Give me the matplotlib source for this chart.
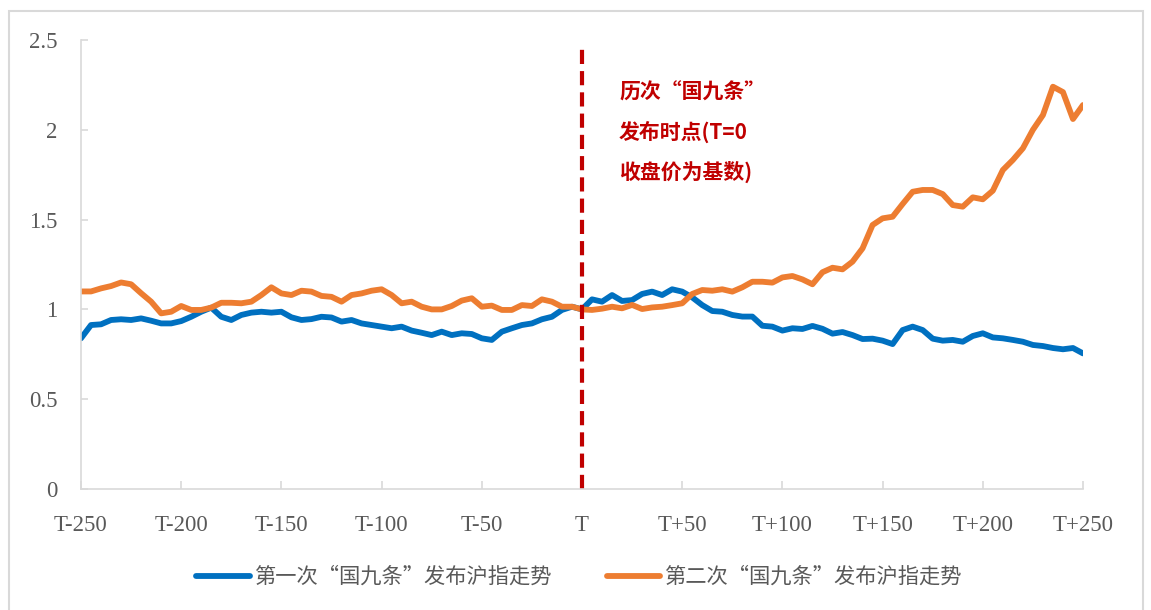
import matplotlib
matplotlib.use('Agg')
import matplotlib.pyplot as plt
from matplotlib.patches import Rectangle

# Fuentes: CJK primero, DejaVu como respaldo
plt.rcParams['font.family'] = ['Noto Sans CJK SC', 'DejaVu Sans']

# Datos (cada 5 dias, T-250 .. T+250)
days = list(range(-250, 251, 5))

first = [0.839, 0.913, 0.917, 0.941, 0.945, 0.941, 0.950, 0.937, 0.922, 0.922,
         0.935, 0.959, 0.987, 1.010, 0.959, 0.941, 0.969, 0.982, 0.987, 0.982,
         0.987, 0.956, 0.941, 0.946, 0.959, 0.955, 0.932, 0.941, 0.922, 0.913,
         0.904, 0.895, 0.904, 0.882, 0.870, 0.857, 0.876, 0.857, 0.867, 0.863,
         0.839, 0.830, 0.876, 0.895, 0.913, 0.922, 0.945, 0.959, 0.997, 1.015,
         1.000, 1.056, 1.043, 1.080, 1.047, 1.052, 1.086, 1.099, 1.080, 1.112,
         1.099, 1.067, 1.024, 0.991, 0.987, 0.969, 0.960, 0.960, 0.909, 0.904,
         0.882, 0.895, 0.891, 0.908, 0.892, 0.865, 0.874, 0.857, 0.835, 0.837,
         0.826, 0.807, 0.885, 0.904, 0.885, 0.837, 0.826, 0.830, 0.820, 0.852,
         0.867, 0.844, 0.839, 0.830, 0.820, 0.802, 0.796, 0.785, 0.778, 0.785,
         0.755]

second = [1.100, 1.100, 1.117, 1.130, 1.150, 1.140, 1.090, 1.043, 0.978, 0.987,
          1.019, 0.997, 0.997, 1.010, 1.037, 1.037, 1.034, 1.043, 1.080, 1.123,
          1.089, 1.080, 1.104, 1.099, 1.075, 1.070, 1.043, 1.080, 1.089, 1.104,
          1.112, 1.080, 1.034, 1.043, 1.015, 1.000, 1.000, 1.019, 1.049, 1.062,
          1.015, 1.021, 0.997, 0.997, 1.024, 1.019, 1.056, 1.043, 1.015, 1.015,
          1.000, 0.997, 1.004, 1.015, 1.006, 1.025, 1.002, 1.011, 1.015, 1.024,
          1.034, 1.086, 1.108, 1.104, 1.112, 1.099, 1.123, 1.154, 1.154, 1.149,
          1.178, 1.186, 1.167, 1.140, 1.207, 1.232, 1.223, 1.266, 1.340, 1.470,
          1.507, 1.516, 1.587, 1.655, 1.665, 1.665, 1.642, 1.581, 1.572, 1.624,
          1.613, 1.661, 1.776, 1.832, 1.897, 2.000, 2.082, 2.240, 2.210, 2.060,
          2.138]

names = ['第一次“国九条”发布沪指走势', '第二次“国九条”发布沪指走势']
note = ['历次“国九条”', '发布时点(T=0', '收盘价为基数)']

xtick_pos = [-250, -200, -150, -100, -50, 0, 50, 100, 150, 200, 250]
xtick_labels = ['T-250', 'T-200', 'T-150', 'T-100', 'T-50', 'T',
                'T+50', 'T+100', 'T+150', 'T+200', 'T+250']
ytick_pos = [0, 0.5, 1, 1.5, 2, 2.5]
ytick_labels = ['0', '0.5', '1', '1.5', '2', '2.5']

W, H = 1151, 610
fig = plt.figure(figsize=(W / 100, H / 100), dpi=100)
ax = fig.add_axes([81 / W, 1 - 489 / H, (1083 - 81) / W, (489 - 40) / H])

ax.plot(days, first, color='#0070C0', lw=4.2, solid_joinstyle='round',
        solid_capstyle='round', label=names[0])
ax.plot(days, second, color='#ED7D31', lw=4.2, solid_joinstyle='round',
        solid_capstyle='round', label=names[1])

# linea vertical en T
ax.vlines(0, 0, 2.48, colors='#C00000', linewidth=3, linestyles=(0, (3.4, 1.7)))

ax.set_xlim(-250, 250)
ax.set_ylim(0, 2.5)
for s in ['top', 'right']:
    ax.spines[s].set_visible(False)
for s in ['left', 'bottom']:
    ax.spines[s].set_color('#D9D9D9')
    ax.spines[s].set_linewidth(1.2)

ax.set_xticks(xtick_pos, xtick_labels, fontfamily='Liberation Serif',
              fontsize=16.5, color='#595959')
ax.set_yticks(ytick_pos, ytick_labels, fontfamily='Liberation Serif',
              fontsize=16.5, color='#595959')
ax.tick_params(axis='x', direction='in', length=5.5, width=1.2, color='#D9D9D9', pad=19)
ax.tick_params(axis='y', direction='in', length=5, width=1.2, color='#D9D9D9', pad=17)

# texto de la anotacion
for i, t in enumerate(note):
    ax.text(18.5, 2.21 - i * 0.222, t, color='#C00000', fontsize=15,
            fontweight='bold', va='center', ha='left')

fig.legend(loc='center', bbox_to_anchor=(0.503, 0.054), ncol=2, frameon=False,
           fontsize=15.3, handlelength=2.5, handletextpad=0.2, columnspacing=2.6,
           labelcolor='#595959')

# marco exterior
fig.patches.append(Rectangle((9 / W, -0.1), (1143 - 9) / W, 1.1 - 11 / H,
                             transform=fig.transFigure, fill=False,
                             edgecolor='#D9D9D9', lw=1.5))

fig.savefig('out.png', dpi=100)
